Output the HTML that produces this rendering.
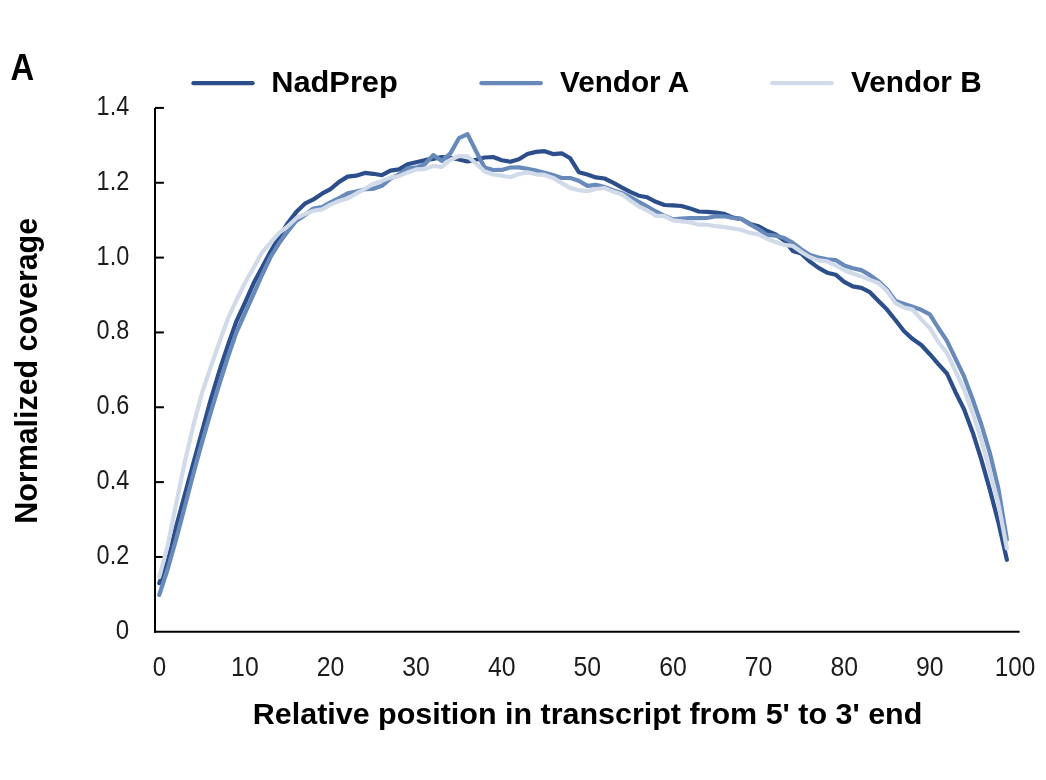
<!DOCTYPE html>
<html lang="en">
<head>
<meta charset="utf-8">
<title>Normalized coverage along transcript</title>
<style>
html,body{margin:0;padding:0;background:#fff;}
body{width:1046px;height:780px;overflow:hidden;font-family:"Liberation Sans",sans-serif;}
svg{display:block;}
</style>
</head>
<body>
<svg role="img" aria-label="Normalized coverage along transcript position for NadPrep, Vendor A and Vendor B" width="1046" height="780" viewBox="0 0 1046 780">
<rect width="1046" height="780" fill="#ffffff"/>
<g stroke="#000" stroke-width="2" fill="none">
<line x1="155" y1="107.9" x2="155" y2="632.8"/>
<line x1="154" y1="631.8" x2="1019.6" y2="631.8"/>
<line x1="155" y1="556.96" x2="163.9" y2="556.96"/>
<line x1="155" y1="482.12" x2="163.9" y2="482.12"/>
<line x1="155" y1="407.28" x2="163.9" y2="407.28"/>
<line x1="155" y1="332.44" x2="163.9" y2="332.44"/>
<line x1="155" y1="257.60" x2="163.9" y2="257.60"/>
<line x1="155" y1="182.76" x2="163.9" y2="182.76"/>
<line x1="155" y1="107.92" x2="163.9" y2="107.92"/>
</g>
<g fill="none" stroke-width="4.2" stroke-linecap="round" stroke-linejoin="round">
<polyline stroke="#2C4F8C" points="159.28,583.20 167.84,560.80 176.40,525.70 184.96,494.00 193.53,462.60 202.09,431.20 210.65,399.80 219.21,371.50 227.77,345.60 236.33,321.50 244.90,303.00 253.46,283.60 262.02,267.40 270.58,251.60 279.14,237.00 287.70,223.20 296.27,212.10 304.83,203.70 313.39,199.40 321.95,193.70 330.51,189.10 339.07,181.90 347.64,176.60 356.20,175.70 364.76,172.90 373.32,173.80 381.88,175.20 390.44,170.70 399.00,169.40 407.57,164.30 416.13,162.20 424.69,160.20 433.25,158.90 441.81,157.00 450.37,157.70 458.94,159.50 467.50,161.50 476.06,159.80 484.62,157.50 493.18,157.00 501.74,160.20 510.31,161.80 518.87,159.30 527.43,154.00 535.99,151.90 544.55,151.20 553.11,154.10 561.68,153.30 570.24,158.30 578.80,172.20 587.36,174.60 595.92,177.40 604.48,178.50 613.04,182.60 621.61,187.40 630.17,191.90 638.73,195.70 647.29,197.30 655.85,201.80 664.41,205.00 672.98,205.40 681.54,206.00 690.10,208.40 698.66,211.50 707.22,211.80 715.78,212.70 724.35,213.90 732.91,217.60 741.47,219.00 750.03,223.90 758.59,226.30 767.15,231.00 775.72,234.50 784.28,240.50 792.84,250.90 801.40,253.60 809.96,261.60 818.52,267.90 827.08,272.70 835.65,274.70 844.21,281.80 852.77,286.40 861.33,287.90 869.89,292.20 878.45,301.00 887.02,309.60 895.58,320.20 904.14,331.30 912.70,339.10 921.26,345.00 929.82,354.20 938.39,364.20 946.95,373.50 955.51,392.20 964.07,409.30 972.63,432.20 981.19,459.20 989.76,489.30 998.32,522.10 1006.88,559.80"/>
<polyline stroke="#678ABB" points="159.28,594.90 167.84,568.50 176.40,538.40 184.96,506.00 193.53,473.20 202.09,442.10 210.65,412.70 219.21,384.70 227.77,357.50 236.33,332.60 244.90,313.30 253.46,294.40 262.02,275.00 270.58,257.00 279.14,243.10 287.70,231.50 296.27,220.80 304.83,215.20 313.39,208.50 321.95,207.10 330.51,202.30 339.07,198.20 347.64,193.40 356.20,191.50 364.76,189.20 373.32,188.80 381.88,185.80 390.44,178.70 399.00,174.40 407.57,168.20 416.13,167.60 424.69,164.30 433.25,155.10 441.81,160.90 450.37,153.40 458.94,138.20 467.50,134.10 476.06,151.30 484.62,167.50 493.18,170.00 501.74,169.90 510.31,167.50 518.87,167.40 527.43,168.80 535.99,170.60 544.55,172.90 553.11,175.00 561.68,178.00 570.24,178.00 578.80,180.70 587.36,185.90 595.92,184.80 604.48,187.00 613.04,190.30 621.61,192.90 630.17,197.20 638.73,201.80 647.29,206.60 655.85,211.50 664.41,215.80 672.98,219.40 681.54,218.70 690.10,218.00 698.66,218.20 707.22,218.00 715.78,216.30 724.35,216.30 732.91,218.00 741.47,218.90 750.03,224.40 758.59,229.30 767.15,234.90 775.72,235.70 784.28,238.10 792.84,242.90 801.40,249.50 809.96,255.10 818.52,257.50 827.08,259.30 835.65,260.00 844.21,265.40 852.77,268.20 861.33,270.10 869.89,275.10 878.45,281.30 887.02,289.20 895.58,301.10 904.14,304.00 912.70,306.80 921.26,309.80 929.82,314.30 938.39,328.00 946.95,340.90 955.51,358.60 964.07,376.40 972.63,399.30 981.19,424.00 989.76,452.60 998.32,488.30 1006.88,539.50"/>
<polyline stroke="#D1DAE9" points="159.28,577.00 167.84,544.70 176.40,502.70 184.96,461.20 193.53,424.50 202.09,392.80 210.65,367.10 219.21,342.70 227.77,319.00 236.33,300.30 244.90,283.00 253.46,268.00 262.02,252.70 270.58,242.60 279.14,232.90 287.70,226.30 296.27,218.20 304.83,214.10 313.39,210.80 321.95,209.40 330.51,204.70 339.07,200.90 347.64,198.50 356.20,193.70 364.76,188.80 373.32,183.90 381.88,180.90 390.44,177.60 399.00,176.20 407.57,172.40 416.13,169.40 424.69,169.10 433.25,166.00 441.81,166.80 450.37,159.70 458.94,156.00 467.50,156.40 476.06,163.50 484.62,171.50 493.18,174.50 501.74,175.70 510.31,177.30 518.87,174.00 527.43,172.40 535.99,174.30 544.55,174.90 553.11,177.90 561.68,183.10 570.24,187.90 578.80,190.20 587.36,191.10 595.92,189.00 604.48,188.00 613.04,191.60 621.61,194.30 630.17,200.50 638.73,206.30 647.29,210.50 655.85,215.60 664.41,216.20 672.98,220.40 681.54,221.30 690.10,222.30 698.66,224.70 707.22,224.70 715.78,226.20 724.35,227.10 732.91,228.30 741.47,230.00 750.03,232.90 758.59,234.40 767.15,238.80 775.72,242.10 784.28,244.90 792.84,246.00 801.40,252.00 809.96,257.20 818.52,260.40 827.08,261.40 835.65,265.40 844.21,270.20 852.77,273.50 861.33,276.40 869.89,279.90 878.45,283.00 887.02,291.10 895.58,303.10 904.14,307.60 912.70,309.60 921.26,319.40 929.82,327.90 938.39,342.00 946.95,353.00 955.51,371.10 964.07,389.50 972.63,413.20 981.19,439.40 989.76,470.90 998.32,503.30 1006.88,548.40"/>
<line stroke="#2C4F8C" x1="193.4" y1="83.15" x2="252.6" y2="83.15"/>
<line stroke="#678ABB" x1="481.4" y1="83.15" x2="540.8" y2="83.15"/>
<line stroke="#D1DAE9" x1="772.2" y1="83.15" x2="831.6" y2="83.15"/>
</g>
<g font-family="'Liberation Sans', sans-serif" font-size="27" fill="#1c1c1c">
<text x="115.8" y="638.80" textLength="13.4" lengthAdjust="spacingAndGlyphs">0</text>
<text x="96.6" y="563.96" textLength="32.6" lengthAdjust="spacingAndGlyphs">0.2</text>
<text x="96.6" y="489.12" textLength="32.6" lengthAdjust="spacingAndGlyphs">0.4</text>
<text x="96.6" y="414.28" textLength="32.6" lengthAdjust="spacingAndGlyphs">0.6</text>
<text x="96.6" y="339.44" textLength="32.6" lengthAdjust="spacingAndGlyphs">0.8</text>
<text x="96.6" y="264.60" textLength="32.6" lengthAdjust="spacingAndGlyphs">1.0</text>
<text x="96.6" y="189.76" textLength="32.6" lengthAdjust="spacingAndGlyphs">1.2</text>
<text x="96.6" y="114.92" textLength="32.6" lengthAdjust="spacingAndGlyphs">1.4</text>
<text x="152.78" y="676.0" textLength="13.4" lengthAdjust="spacingAndGlyphs">0</text>
<text x="231.10" y="676.0" textLength="27.6" lengthAdjust="spacingAndGlyphs">10</text>
<text x="316.71" y="676.0" textLength="27.6" lengthAdjust="spacingAndGlyphs">20</text>
<text x="402.33" y="676.0" textLength="27.6" lengthAdjust="spacingAndGlyphs">30</text>
<text x="487.94" y="676.0" textLength="27.6" lengthAdjust="spacingAndGlyphs">40</text>
<text x="573.56" y="676.0" textLength="27.6" lengthAdjust="spacingAndGlyphs">50</text>
<text x="659.18" y="676.0" textLength="27.6" lengthAdjust="spacingAndGlyphs">60</text>
<text x="744.79" y="676.0" textLength="27.6" lengthAdjust="spacingAndGlyphs">70</text>
<text x="830.41" y="676.0" textLength="27.6" lengthAdjust="spacingAndGlyphs">80</text>
<text x="916.02" y="676.0" textLength="27.6" lengthAdjust="spacingAndGlyphs">90</text>
<text x="994.74" y="676.0" textLength="40.6" lengthAdjust="spacingAndGlyphs">100</text>
</g>
<g font-family="'Liberation Sans', sans-serif" font-weight="bold" fill="#000">
<text x="10.4" y="80.0" font-size="36.2" textLength="23.7" lengthAdjust="spacingAndGlyphs">A</text>
<text x="271.2" y="91.8" font-size="29.6" textLength="126.6" lengthAdjust="spacingAndGlyphs">NadPrep</text>
<text x="560.0" y="91.8" font-size="29.6" textLength="129.2" lengthAdjust="spacingAndGlyphs">Vendor A</text>
<text x="851.0" y="91.8" font-size="29.6" textLength="130.7" lengthAdjust="spacingAndGlyphs">Vendor B</text>
<text x="252.8" y="723.6" font-size="30.0" textLength="669.5" lengthAdjust="spacingAndGlyphs">Relative position in transcript from 5' to 3' end</text>
<text transform="translate(37.3 523.7) rotate(-90)" font-size="30.8" textLength="305.8" lengthAdjust="spacingAndGlyphs">Normalized coverage</text>
</g>
</svg>
</body>
</html>
